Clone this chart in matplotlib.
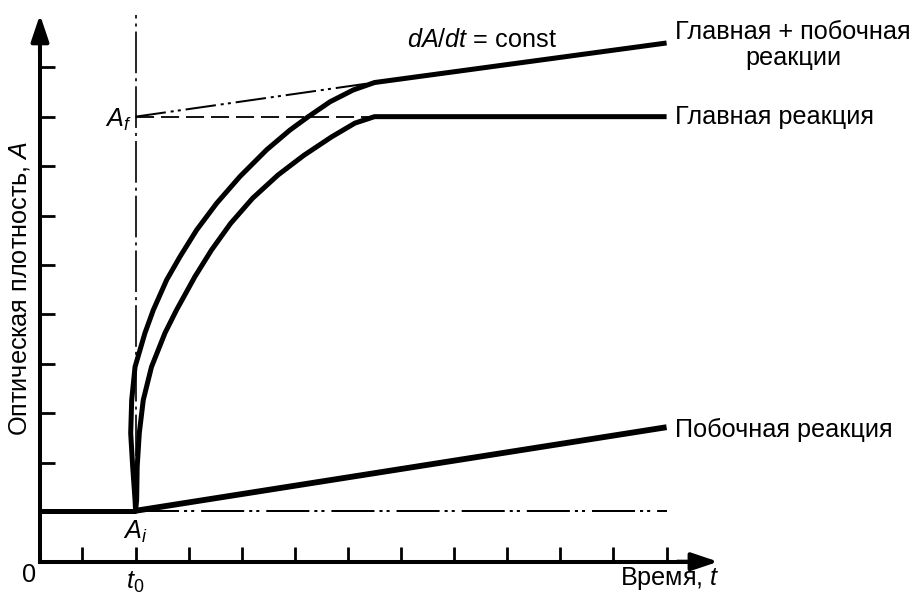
import numpy as np
import matplotlib
matplotlib.use('Agg')
import matplotlib.pyplot as plt

plt.rcParams['font.family'] = ['Liberation Sans', 'DejaVu Sans']
plt.rcParams['mathtext.fontset'] = 'custom'
plt.rcParams['mathtext.rm'] = 'Liberation Sans'
plt.rcParams['mathtext.it'] = 'Liberation Sans:italic'
plt.rcParams['lines.scale_dashes'] = False

# data in tick units (time t, optical density A)
t0 = 1.8
A_i = 1.03
A_f = 9.0
t_end = 11.8
x_ticks = [0.8, 1.8, 2.8, 3.8, 4.8, 5.8, 6.8, 7.8, 8.8, 9.8, 10.8, 11.8]
y_ticks = [1, 2, 3, 4, 5, 6, 7, 8, 9, 10]

# main reaction curve, then plateau at A_f
main_t = [1.8, 1.82, 1.83, 1.87, 1.945, 2.10, 2.354, 2.571, 2.915, 3.228, 3.589,
          4.004, 4.482, 4.972, 5.49, 5.932, 6.3, 11.8]
main_A = [1.03, 1.25, 1.915, 2.60, 3.27, 3.94, 4.625, 5.09, 5.76, 6.30, 6.84,
          7.35, 7.82, 8.22, 8.59, 8.87, 9.0, 9.0]

# main + side reaction curve, then straight line dA/dt = const
both_t = [1.8, 1.79, 1.746, 1.708, 1.727, 1.79, 1.977, 2.134, 2.386, 2.637, 2.951,
          3.328, 3.766, 4.269, 4.708, 5.053, 5.461, 5.9, 6.3, 11.8]
both_A = [1.03, 1.25, 1.915, 2.60, 3.27, 3.94, 4.625, 5.09, 5.70, 6.17, 6.71,
          7.25, 7.79, 8.33, 8.73, 9.0, 9.30, 9.54, 9.69, 10.49]

# side reaction
side_t = [1.8, 11.8]
side_A = [1.03, 2.72]

# extrapolation of the linear part back to t0
extr_t = [1.8, 6.3]
extr_A = [9.0, 9.69]

fig = plt.figure(figsize=(9.13, 5.94), dpi=100)
ax = fig.add_axes([0, 0, 1, 1])
ax.set_xlim(-0.753, 16.44)
ax.set_ylim(-0.653, 11.359)

for s in ['top', 'right']:
    ax.spines[s].set_visible(False)
ax.spines['left'].set_position(('data', 0))
ax.spines['bottom'].set_position(('data', 0))
ax.spines['left'].set_bounds(0, 10.6)
ax.spines['bottom'].set_bounds(0, 12.4)
ax.spines['left'].set_linewidth(2.9)
ax.spines['bottom'].set_linewidth(2.9)
ax.set_xticks(x_ticks)
ax.set_yticks(y_ticks)
ax.tick_params(direction='in', length=10.8, width=2, labelbottom=False, labelleft=False)

arrow = dict(arrowstyle='-|>,head_length=0.8,head_width=0.27', lw=2.9, color='k',
             shrinkA=0, shrinkB=0, mutation_scale=20)
ax.annotate('', xy=(12.77, 0), xytext=(12.0, 0), arrowprops=arrow)
ax.annotate('', xy=(0, 11.06), xytext=(0, 10.3), arrowprops=arrow)

# reference lines
ax.plot([0, t0], [A_i, A_i], color='k', lw=3.6, solid_capstyle='butt')
ax.plot([t0, t_end], [A_i, A_i], color='k', lw=1.44,
        dashes=(31, 3.6, 2.2, 2.9, 2.2, 5))
ax.plot([t0, t0], [A_i, 11.06], color='k', lw=1.2, dashes=(30, 3.6, 2.2, 3.6))
ax.plot([t0, main_t[-2]], [A_f, A_f], color='k', lw=1.3, dashes=(13, 5))
ax.plot(extr_t, extr_A, color='k', lw=1.44, dashes=(22, 3.5, 2.2, 3, 2.2, 3.5))

# curves
ax.plot(main_t, main_A, color='k', lw=3.6, solid_joinstyle='round', solid_capstyle='butt')
ax.plot(both_t, both_A, color='k', lw=3.6, solid_joinstyle='round', solid_capstyle='butt')
ax.plot(side_t, side_A, color='k', lw=4.2, solid_capstyle='butt')

fs = 18.2
ax.text(8.32, 10.55, '$dA/dt$ = const', fontsize=fs, ha='center', va='center')
ax.text(14.18, 10.45, 'Главная + побочная\nреакции', fontsize=fs, ha='center',
        va='center', multialignment='center', linespacing=1.15)
ax.text(11.96, 9.0, 'Главная реакция', fontsize=fs, ha='left', va='center')
ax.text(11.96, 2.66, 'Побочная реакция', fontsize=fs, ha='left', va='center')
ax.text(10.92, -0.33, 'Время, $t$', fontsize=fs, ha='left', va='center')
ax.text(-0.207, -0.27, '0', fontsize=fs, ha='center', va='center')
ax.text(t0, -0.41, '$t_0$', fontsize=fs, ha='center', va='center')
ax.text(t0, 0.6, '$A_i$', fontsize=fs, ha='center', va='center')
ax.text(1.73, 8.93, '$A_f$', fontsize=fs, ha='right', va='center')
ax.text(-0.377, 5.53, 'Оптическая плотность, $A$', fontsize=fs, ha='center',
        va='center', rotation=90)

fig.savefig('out.png', dpi=100)
